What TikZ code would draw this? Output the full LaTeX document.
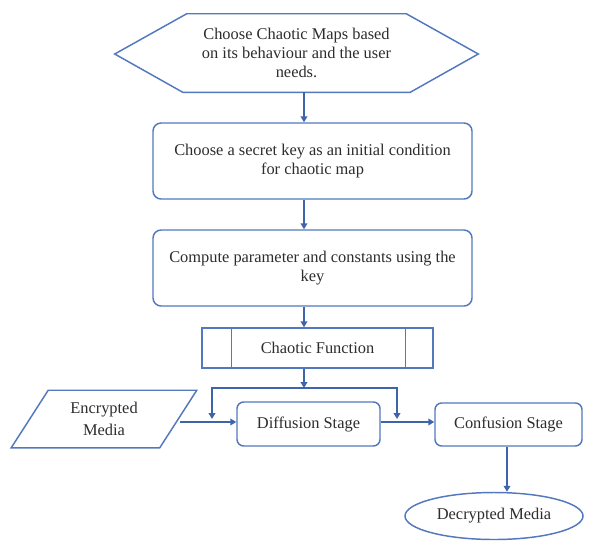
\documentclass[tikz,border=0pt]{standalone}
\usepackage{fontspec}
\setmainfont{Liberation Serif}
\newfontfamily\tnr{Liberation Serif}
\usetikzlibrary{arrows.meta,calc,shapes.geometric}
\definecolor{bord}{RGB}{84,120,190}
\definecolor{arrc}{RGB}{62,100,172}
\definecolor{txt}{RGB}{45,45,45}
\begin{document}
\begin{tikzpicture}[x=0.75pt,y=-0.75pt,
 lbl/.style={font=\tnr\fontsize{12.3}{14.2}\selectfont, text=txt, align=center, inner sep=0pt},
 rbox/.style={lbl, draw=bord, line width=1.1pt, rounded corners=6pt, fill=white},
 arr/.style={draw=arrc, line width=2pt, -{Triangle[length=4.5pt,width=5pt]}},
 shp/.style={draw=bord, line width=1.1pt}]

\useasboundingbox (0,0) rectangle (603,547);
\fill[white] (0,0) rectangle (603,547);

% hexagon
\node[lbl, minimum width=272.25pt, minimum height=58.5pt] (hex) at (296.5,53)
  {Choose Chaotic Maps based\\on its behaviour and the user\\needs.};
\draw[shp] ($(hex.west)+(0,1)$) -- ($(hex.north west)+(72,0)$) -- ($(hex.north east)+(-72,0)$)
  -- ($(hex.east)+(0,1)$) -- ($(hex.south east)+(-68,0)$) -- ($(hex.south west)+(68,0)$) -- cycle;

\node[rbox, minimum width=239.25pt, minimum height=57pt] (b2) at (312.5,161)
  {Choose a secret key as an initial condition\\for chaotic map};
\node[rbox, minimum width=239.25pt, minimum height=57pt] (b3) at (312.5,268)
  {Compute parameter and constants using the\\key};

\node[lbl, draw=bord, line width=1.1pt, fill=white, minimum width=173.25pt, minimum height=30pt] (cf) at (317.5,348) {Chaotic Function};
\draw[shp] ($(cf.north west)+(30,0)$) -- ($(cf.south west)+(30,0)$);
\draw[shp] ($(cf.north east)+(-28,0)$) -- ($(cf.south east)+(-28,0)$);

\node[rbox, rounded corners=5pt, minimum width=107.25pt, minimum height=33pt] (diff) at (308.5,424) {Diffusion Stage};
\node[rbox, rounded corners=5pt, minimum width=110.25pt, minimum height=32.25pt] (conf) at (508.5,424.5) {Confusion Stage};
\node[lbl, ellipse, draw=bord, line width=1.1pt, minimum width=133.5pt, minimum height=35.25pt] (dec) at (494,516) {Decrypted Media};

\node[lbl, font=\tnr\fontsize{12.3}{17}\selectfont, minimum width=138.75pt, minimum height=42.75pt] (enc) at (104,419) {Encrypted\\Media};
\draw[shp] ($(enc.north west)+(37,0)$) -- (enc.north east) -- ($(enc.south east)+(-37,0)$) -- (enc.south west) -- cycle;

% connectors
\coordinate (colx) at (304,0);
\draw[arr] (hex.south -| colx) -- (b2.north -| colx);
\draw[arr] (b2.south -| colx) -- (b3.north -| colx);
\draw[arr] (b3.south -| colx) -- (cf.north -| colx);
\coordinate (jn) at (304,388);
\coordinate (encR) at (180,422);
\coordinate (dl) at (212,419);
\coordinate (dr) at (397,419);
\draw[arr] (cf.south -| colx) -- (jn);
\draw[arr] (jn) -| (dl);
\draw[arr] (jn) -| (dr);
\draw[arr] (encR) -- (encR -| diff.west);
\draw[arr] (diff.east |- encR) -- (encR -| conf.west);
\draw[arr] (conf.south -| 507,0) -- (dec.north -| 507,0);
\end{tikzpicture}
\end{document}
